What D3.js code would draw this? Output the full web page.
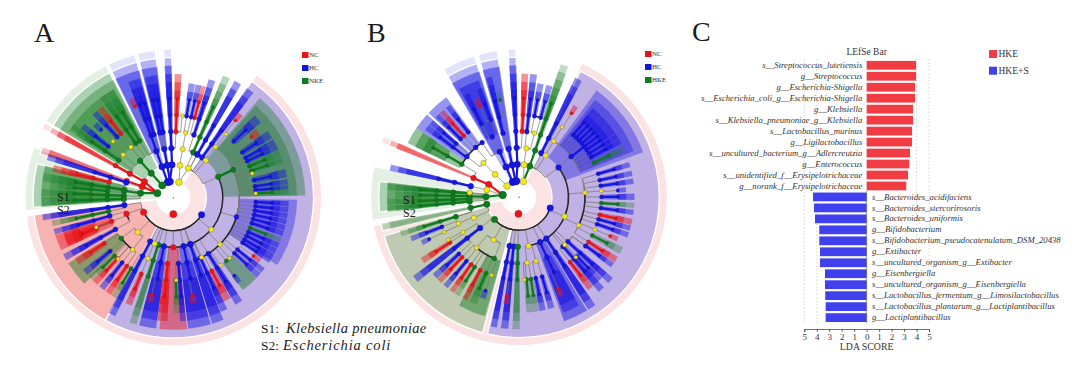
<!DOCTYPE html>
<html>
<head>
<meta charset="utf-8">
<script src="https://cdn.jsdelivr.net/npm/d3@7/dist/d3.min.js"></script>
<style>
  html, body { margin: 0; padding: 0; background: #fff; }
  svg { display: block; }
  text { font-family: "Liberation Serif", serif; }
</style>
</head>
<body>
<svg id="chart" width="1080" height="387"></svg>
<script>
// clades: start deg, end deg, first level, last level, group, optional node deg
var cladesA = [
  [34,263,1,1,'r',180], [34,209,2,2,'b',121], [209,263,2,2,'r',244],
  [41,89,3,3,'g',65], [42,89,4,4,'g',65],
  [37.5,40,6,6,'r'], [45,49,5,6,'b'], [50.5,54,6,6,'r'], [55,58.5,5,6,'b'], [60,62,5,6,'b'], [62.5,65,5,6,'b'],
  [66,69,5,6,'g'], [70,72,5,6,'g'], [76,79.5,5,6,'b'], [81,83,5,6,'b'], [84,85.5,5,6,'b'], [86,88,5,6,'g'],
  [34.2,37,3,5,'b'], [28,30.5,3,5,'b'], [22.5,25,3,6,'g'], [17,19.5,4,6,'b'], [14,16,5,6,'r'],
  [11.5,13.5,5,6,'b'], [8,10.5,5,6,'b'], [1,3.5,4,6,'r'], [-3.5,-1,1,6,'b'],
  [-14,-7,1,3,'b'], [-13,-10.5,4,6,'b'], [-10,-8,4,6,'b'],
  [-26,-15,1,3,'b',-20], [-24,-21.5,6,6,'r'], [-21,-18.5,4,6,'b'], [-18,-16,4,6,'b'],
  [-59,-27,1,3,'g',-42], [-56,-29,4,4,'g',-40],
  [-32.5,-29,4,6,'g'], [-36,-33.5,4,6,'g'], [-40.5,-38,5,6,'r'], [-44,-41.5,5,6,'b'], [-48,-45.5,6,6,'b'],
  [-53,-50.5,5,6,'b'], [-57,-54,4,6,'g'],
  [-62,-60,1,4,'r'], [-95,-70,1,1,'g',-74], [-94,-76,2,3,'g',-82],
  [-77.5,-75,4,6,'r'], [-71.5,-69,2,3,'r'], [-73,-71,3,5,'b'],
  [-82.5,-79.5,3,6,'g'], [-85.5,-83,4,6,'g'], [-89,-86.5,3,6,'g'], [-93,-90,3,6,'g'],
  [260.5,262.5,3,5,'b'], [257,259,4,6,'g'], [253,255,4,6,'b'], [245,252.5,4,6,'r',249], [246,251,5,6,'r',248],
  [240,242.5,4,6,'b'], [226,238,4,4,'g',232], [235,238,5,6,'r'], [228.5,231,5,6,'b'], [224,226.5,5,6,'g'],
  [221.5,223.5,5,6,'r'], [217,219.5,5,6,'b'], [213,215.5,5,6,'r'], [209.5,212,5,6,'g'], [206.5,209,3,5,'b'],
  [201.5,204,5,6,'r'], [196.5,199,3,5,'g'], [187.5,195,3,5,'b',191], [191,194,6,6,'r'],
  [174,186,3,3,'r',180], [183,187,4,6,'r',185], [177,179.5,5,6,'g'], [174.5,176.5,4,6,'b'],
  [163.5,173.5,3,5,'b',168], [167.5,170.5,6,6,'r'], [158,162.5,3,5,'b'], [154.5,157,4,6,'b'],
  [150.5,154,5,6,'r'], [146.5,149.5,4,6,'b'], [134,143,5,5,'g',140], [141,143,6,6,'b'],
  [131,133.5,5,6,'b'], [128,130,5,6,'b'], [125,127,6,6,'r'], [122,124,5,6,'b'],
  [91,123,4,4,'b',107], [92,94,5,6,'b'], [95,97,5,6,'b'], [98,100,5,6,'b'], [101,103,5,6,'b'], [104,106,5,6,'b'],
  [107,109,5,6,'b'], [110.5,112.5,5,6,'g'], [113.5,115.5,5,6,'b'], [116.5,118.5,5,6,'b'], [119.5,121.5,5,6,'b']
];
// knots: deg, level, group (y = not significant)
var knotsA = [
  [20,1,'y'], [11.8,2,'y'], [27,2,'y'], [11,3,'y'], [10.8,4,'y'], [6.3,5,'y'], [41,3,'y'], [39.7,4,'y'], [39.6,5,'y'],
  [72.9,5,'y'], [87,5,'y'], [130,3,'y'], [135,4,'y'], [154.6,4,'y'], [137,5,'y'], [145,5,'y'], [202,3,'y'], [202.7,4,'y'],
  [178,5,'y'], [225.8,3,'y'], [218,4,'y'], [-40,4,'y'], [-49.5,4,'y'], [-47,5,'y'], [249,5,'y'], [222,5,'y'],
  [-11.8,1,'b'], [251,3,'r'], [29,3,'b'], [65,4,'g'], [159.5,3,'b']
];
var arcsA = [[121,244,2], [65,203,3], [107,154.6,4], [218,232,4], [244,251,3]];

var cladesB = [
  [25,259,1,1,'r',182], [26,193,2,2,'b',109], [195,254,2,2,'g',228],
  [36,70,3,3,'b',53], [38,68,4,4,'b',52],
  [40,42,5,6,'b'], [42.8,44.8,5,6,'b'], [45.6,47.6,5,6,'b'], [48.4,50.4,5,6,'b'], [51.2,53.2,5,6,'b'], [54,56,5,6,'b'],
  [57,59,5,6,'b'], [60,62,5,6,'b'], [64,66.5,5,6,'g'],
  [31,33,6,6,'r'], [25.5,28,3,5,'b'], [17.5,20.5,2,6,'g'],
  [14,16.5,5,6,'b'], [9.5,12,5,6,'b'], [5.5,8,4,6,'b'], [1.5,4,4,6,'r'], [-4,-1.5,1,6,'b'],
  [-16,-8.5,1,3,'b',-12], [-15,-13,4,6,'b'], [-12,-10,6,6,'g'],
  [-30.5,-17.5,1,3,'b',-23], [-29,-19,4,4,'b',-24], [-28,-26,5,6,'b'], [-24.5,-22,6,6,'r'], [-21,-19,5,6,'b'],
  [-47,-36,4,4,'b',-41], [-43,-41,5,6,'r'], [-46,-44,5,6,'b'], [-39,-37,5,6,'b'],
  [-56,-48,4,4,'b',-52], [-54,-51.5,5,6,'b'], [-50.5,-48.5,5,6,'b'],
  [-64,-56,4,6,'g',-60], [-68,-66,1,3,'r'], [-78,-76,3,5,'b'],
  [-99,-78,1,1,'g',-82], [-96,-83.5,2,3,'g',-89],
  [-86.5,-84.5,3,6,'g'], [-90,-87.5,4,6,'g'], [-93,-91,3,6,'g'], [-96,-94,3,6,'g'],
  [256.5,259,2,3,'g'], [252,254,4,6,'g'], [248,250,5,6,'b'], [244,246,6,6,'b'], [235.5,238,5,6,'r'], [230.5,233,3,5,'b'],
  [225.5,228,5,6,'b'], [222.5,224.5,5,6,'r'], [218.5,220.5,5,6,'b'], [214.5,216.5,5,6,'r'], [211.5,213.5,5,6,'g'],
  [207,209,5,6,'r'], [196,209,4,4,'g',202], [198.5,201,6,6,'b'], [202,205,5,6,'g'],
  [190,192,3,5,'b'], [185,187.5,3,5,'b'], [185.5,188,6,6,'r'], [180,182.5,3,5,'g'], [173.5,176,5,6,'g'], [170.5,172.8,5,6,'g'],
  [167,169.5,5,6,'b'], [162.5,165,5,6,'b'], [149,160,3,3,'b',154.6], [151,159,4,5,'b',155], [155.5,158,6,6,'r'],
  [145,148,3,5,'b'], [137,139.5,4,6,'b'], [140.5,143,5,6,'r'], [134.5,136.5,5,6,'b'], [131,133.5,4,6,'b'],
  [116,119,5,6,'g'], [121.5,124,5,6,'r'], [125,127,5,6,'b'], [112,114,6,6,'r'],
  [72.5,74.5,5,6,'b'], [77,79,5,6,'b'], [81,83,5,6,'b'], [85,87,6,6,'b'], [88.5,91,5,6,'b'], [93,95,5,6,'g'],
  [96.5,98.5,5,6,'b'], [101,103.5,5,6,'r'], [104.5,106.5,5,6,'b'], [108,110,5,6,'b']
];
var knotsB = [
  [15.5,1,'y'], [8.8,2,'y'], [8.5,3,'y'], [13.5,4,'y'], [-47,1,'y'], [-46,2,'y'], [-46,3,'y'], [32.4,3,'y'], [31.8,4,'y'], [31.5,5,'y'],
  [112.8,3,'y'], [168.8,3,'y'], [173,4,'y'], [165,4,'y'], [176.3,5,'y'], [136,4,'y'], [136.5,5,'y'], [115,4,'y'], [86,4,'y'], [85.6,5,'y'],
  [113,5,'y'], [210.8,3,'y'], [220,4,'y'], [199.4,5,'y'], [245.5,3,'y'], [238,4,'y'], [246.6,4,'y'], [245,5,'y'], [239,5,'y'],
  [-84.5,3,'y'], [-77,2,'y'],
  [-81.5,1,'g'], [-9,1,'b'], [-34,4,'b'], [126.4,5,'b'], [252.8,4,'g']
];
var arcsB = [[109,228,2], [52,170,3], [86,115,4], [-60,-34,4], [202,220,4], [10,16,5]];

var legendA = ['NC', 'HC', 'NKE'];
var legendB = ['NC', 'HC', 'HKE'];
var legendGroups = ['r', 'b', 'g'];

var hkeTaxa = ['s__Streptococcus_lutetiensis', 'g__Streptococcus', 'g__Escherichia-Shigella', 's__Escherichia_coli_g__Escherichia-Shigella',
  'g__Klebsiella', 's__Klebsiella_pneumoniae_g__Klebsiella', 's__Lactobacillus_murinus', 'g__Ligilactobacillus',
  's__uncultured_bacterium_g__Adlercreutzia', 'g__Enterococcus', 's__unidentified_f__Erysipelotrichaceae', 'g__norank_f__Erysipelotrichaceae'];
var hkeScores = [3.96, 3.96, 3.88, 3.88, 3.72, 3.72, 3.64, 3.64, 3.48, 3.42, 3.32, 3.18];
var hkesTaxa = ['s__Bacteroides_acidifaciens', 's__Bacteroides_stercorirosoris', 's__Bacteroides_uniformis', 'g__Bifidobacterium',
  's__Bifidobacterium_pseudocatenulatum_DSM_20438', 'g__Extibacter', 's__uncultured_organism_g__Extibacter', 'g__Eisenbergiella',
  's__uncultured_organism_g__Eisenbergiella', 's__Lactobacillus_fermentum_g__Limosilactobacillus',
  's__Lactobacillus_plantarum_g__Lactiplantibacillus', 'g__Lactiplantibacillus'];
var hkesScores = [4.30, 4.22, 4.14, 3.80, 3.80, 3.74, 3.74, 3.34, 3.34, 3.32, 3.29, 3.29];
var scoreTicks = [-5, -4, -3, -2, -1, 0, 1, 2, 3, 4, 5];
var gridTicks = [-5, -4, 4, 5];

var colors = { r: '#e8141a', b: '#1414e0', g: '#0f7a1f', y: '#f2e61e' };
var deg = d3.scaleLinear().domain([0, 360]).range([0, 2 * Math.PI]);
var levelR = d3.scaleLinear().domain([0, 9]).range([0, 148.5]);
var dotR = d3.scaleLinear().domain([1, 6]).range([3.6, 1.6]);
var sectorArc = d3.arc();

function outerLevel(level) { return 9.5 - 0.5 * level; }
function isNarrow(d) { return d.end - d.start < 5; }
function sectorAlpha(d) {
  if (d.level === 1) return 0.11;
  if (d.level === 2) return 0.26;
  if (d.end - d.start > 20) return 0.36;
  return d.group === 'g' && isNarrow(d) ? 0.3 : 0.46;
}

var svg = d3.select('#chart');
svg.append('defs').append('filter').attr('id', 'soft')
  .append('feGaussianBlur').attr('stdDeviation', 0.45);

function drawCladogram(cx, cy, clades, knots, arcs) {
  var g = svg.append('g').attr('transform', 'translate(' + cx + ',' + cy + ')').attr('filter', 'url(#soft)');

  // expand each clade row into one shaded sector per level
  var sectors = [], nodes = [];
  clades.forEach(function (c) {
    var mid = c[5] !== undefined ? c[5] : (c[0] + c[1]) / 2;
    for (var level = c[2]; level <= c[3]; level++) {
      sectors.push({ start: c[0], end: c[1], level: level, group: c[4] });
      if (level > 1 || c[5] !== undefined) nodes.push({ angle: mid, level: level, group: c[4] });
    }
  });
  knots.forEach(function (k) { nodes.push({ angle: k[0], level: k[1], group: k[2] }); });
  sectors.sort(function (a, b) { return a.level - b.level; });

  g.selectAll('path.sector').data(sectors).enter().append('path')
    .attr('class', 'sector')
    .attr('d', function (d) {
      var pad = isNarrow(d) ? 0.35 : 0;
      return sectorArc({
        innerRadius: levelR(d.level),
        outerRadius: levelR(outerLevel(d.level)),
        startAngle: deg(d.start - pad),
        endAngle: deg(d.end + pad)
      });
    })
    .attr('fill', function (d) { return colors[d.group]; })
    .attr('fill-opacity', sectorAlpha)
    .attr('stroke', '#fff')
    .attr('stroke-width', function (d) { return d.level <= 2 ? 1.3 : 0; });

  // each node joins the nearest node one level in
  function parentOf(n) {
    var best = null;
    nodes.forEach(function (p) {
      if (p.level !== n.level - 1) return;
      if (!best || Math.abs(p.angle - n.angle) < Math.abs(best.angle - n.angle)) best = p;
    });
    return best;
  }
  var radial = d3.lineRadial().angle(function (d) { return deg(d[0]); }).radius(function (d) { return levelR(d[1]); });
  nodes.forEach(function (n) {
    if (n.level === 1) return;
    var p = parentOf(n);
    var inner = n.level - 1;
    if (inner === 1) {
      // second level runs straight to its phylum dot, the big clades use the black arcs
      if (!p || Math.abs(p.angle - n.angle) > 35) return;
      g.append('path').attr('d', radial([[n.angle, n.level], [p.angle, 1]]))
        .attr('fill', 'none')
        .attr('stroke', n.group === 'y' ? '#77786a' : colors[n.group])
        .attr('stroke-width', n.group === 'y' ? 0.7 : 2.2);
      return;
    }
    var same = p && p.group === n.group && n.group !== 'y' && Math.abs(p.angle - n.angle) < 1;
    g.append('path').attr('d', radial([[n.angle, n.level], [n.angle, inner]]))
      .attr('fill', 'none')
      .attr('stroke', same ? colors[n.group] : '#77786a')
      .attr('stroke-width', same ? 2.2 : 0.7);
    if (p && !same) {
      g.append('path')
        .attr('d', sectorArc({
          innerRadius: levelR(inner), outerRadius: levelR(inner),
          startAngle: deg(Math.min(p.angle, n.angle)), endAngle: deg(Math.max(p.angle, n.angle))
        }))
        .attr('fill', 'none')
        .attr('stroke', '#77786a')
        .attr('stroke-width', 0.7);
    }
  });

  g.selectAll('path.thick').data(arcs).enter().append('path')
    .attr('class', 'thick')
    .attr('d', function (d) {
      return sectorArc({
        innerRadius: levelR(d[2]), outerRadius: levelR(d[2]),
        startAngle: deg(d[0]), endAngle: deg(d[1])
      });
    })
    .attr('fill', 'none').attr('stroke', '#26282c').attr('stroke-width', 1.5);

  g.selectAll('circle.node').data(nodes).enter().append('circle')
    .attr('class', 'node')
    .attr('cx', function (d) { return levelR(d.level) * Math.sin(deg(d.angle)); })
    .attr('cy', function (d) { return -levelR(d.level) * Math.cos(deg(d.angle)); })
    .attr('r', function (d) { return dotR(d.level) * (d.group === 'y' ? 0.95 : 1); })
    .attr('fill', function (d) { return colors[d.group]; })
    .attr('stroke', function (d) { return d.group === 'y' ? '#6c6c30' : d3.color(colors[d.group]).darker(0.8); })
    .attr('stroke-width', 0.4);

  g.append('circle').attr('r', 0.8).attr('fill', '#777');
}

function drawLegend(x, y0, step, names) {
  var rows = svg.append('g').selectAll('g').data(names).enter().append('g')
    .attr('transform', function (d, i) { return 'translate(' + x + ',' + (y0 + i * step) + ')'; });
  rows.append('rect').attr('x', 0).attr('y', -3).attr('width', 6.5).attr('height', 6)
    .attr('fill', function (d, i) { return colors[legendGroups[i]]; });
  rows.append('text').attr('x', 7).attr('y', 2.4).attr('font-size', 7).attr('fill', '#333')
    .text(function (d) { return d; });
}

drawCladogram(173.3, 197.7, cladesA, knotsA, arcsA);
drawCladogram(519, 197.3, cladesB, knotsB, arcsB);
drawLegend(302, 55, 13, legendA);
drawLegend(645, 54, 13, legendB);

function plainText(x, y, size, str, anchor, style) {
  return svg.append('text').attr('x', x).attr('y', y).attr('font-size', size)
    .attr('text-anchor', anchor || 'start').attr('font-style', style || 'normal')
    .attr('fill', '#1c1c1c').text(str);
}
plainText(34, 42, 28, 'A');
plainText(367, 42, 28, 'B');
plainText(692, 41, 28, 'C');
plainText(57, 201, 12, 'S1');
plainText(57, 214, 12, 'S2');
plainText(403, 204, 12, 'S1');
plainText(403, 217, 12, 'S2');
var cap1 = plainText(261, 333, 13.5, 'S1:');
cap1.append('tspan').attr('x', 286).attr('font-size', 14.5).attr('font-style', 'italic').attr('letter-spacing', 0.35).text('Klebsiella pneumoniae');
var cap2 = plainText(261, 350, 13.5, 'S2:');
cap2.append('tspan').attr('x', 283).attr('font-size', 14.5).attr('font-style', 'italic').attr('letter-spacing', 0.85).text('Escherichia coli');

// panel C, LDA bars
var allTaxa = hkeTaxa.concat(hkesTaxa);
var x = d3.scaleLinear().domain([-5, 5]).range([804.3, 929]);
var y = d3.scaleBand().domain(allTaxa).range([59.8, 323.1]).paddingInner(0.2).paddingOuter(0.1);
var bars = svg.append('g');

bars.selectAll('line.grid').data(gridTicks).enter().append('line')
  .attr('class', 'grid')
  .attr('x1', function (d) { return x(d); }).attr('x2', function (d) { return x(d); })
  .attr('y1', 59).attr('y2', 323)
  .attr('stroke', '#c4c4c4').attr('stroke-width', 0.7).attr('stroke-dasharray', '1.5,2');

bars.selectAll('rect.hke').data(hkeScores).enter().append('rect')
  .attr('class', 'hke')
  .attr('x', x(0))
  .attr('y', function (d, i) { return y(hkeTaxa[i]); })
  .attr('width', function (d) { return x(d) - x(0); })
  .attr('height', y.bandwidth())
  .attr('fill', '#f03c42');
bars.selectAll('rect.hkes').data(hkesScores).enter().append('rect')
  .attr('class', 'hkes')
  .attr('x', function (d) { return x(-d); })
  .attr('y', function (d, i) { return y(hkesTaxa[i]); })
  .attr('width', function (d) { return x(0) - x(-d); })
  .attr('height', y.bandwidth())
  .attr('fill', '#4040ee');

bars.append('line').attr('x1', x(0)).attr('x2', x(0)).attr('y1', 191).attr('y2', 323)
  .attr('stroke', '#555').attr('stroke-width', 0.6);

bars.selectAll('text.lefttaxon').data(hkeTaxa).enter().append('text')
  .attr('class', 'lefttaxon')
  .attr('x', 862.3).attr('y', function (d) { return y(d) + y.bandwidth() / 2 + 2.6; })
  .attr('text-anchor', 'end').attr('font-size', 8.7).attr('font-style', 'italic').attr('fill', '#333')
  .text(function (d) { return d; });
bars.selectAll('text.righttaxon').data(hkesTaxa).enter().append('text')
  .attr('class', 'righttaxon')
  .attr('x', 872).attr('y', function (d) { return y(d) + y.bandwidth() / 2 + 2.6; })
  .attr('font-size', 8.7).attr('font-style', 'italic').attr('fill', '#333')
  .text(function (d) { return d; });

var axis = d3.axisBottom(x).tickValues(scoreTicks).tickSize(3).tickFormat(function (d) { return Math.abs(d); });
var axisG = svg.append('g').attr('transform', 'translate(0,329)').call(axis);
axisG.selectAll('text').attr('font-size', 9).attr('font-family', '"Liberation Serif", serif').attr('fill', '#333').attr('dy', '0.5em');
axisG.selectAll('line,path').attr('stroke', '#333').attr('stroke-width', 0.7);

plainText(x(0), 350, 9.8, 'LDA SCORE', 'middle').attr('fill', '#333');
plainText(x(0), 55, 9.5, 'LEfSe Bar', 'middle').attr('fill', '#333');

var legendC = svg.append('g').selectAll('g').data([['HKE', '#f03c42', 54], ['HKE+S', '#4040ee', 70.7]]).enter().append('g');
legendC.append('rect').attr('x', 989).attr('y', function (d) { return d[2] - 4; })
  .attr('width', 8).attr('height', 8).attr('fill', function (d) { return d[1]; });
legendC.append('text').attr('x', 998.5).attr('y', function (d) { return d[2] + 3; })
  .attr('font-size', 9.5).attr('fill', '#333').text(function (d) { return d[0]; });
</script>
</body>
</html>
